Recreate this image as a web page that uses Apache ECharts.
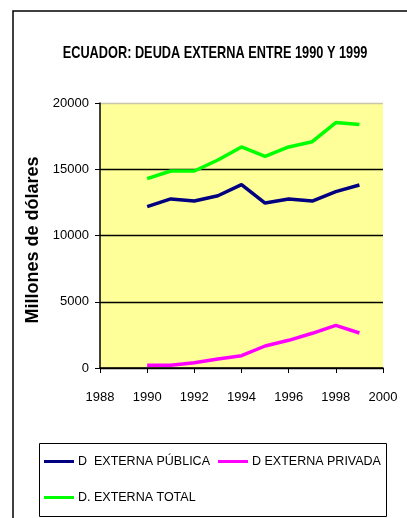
<!DOCTYPE html>
<html>
<head>
<meta charset="utf-8">
<script src="https://cdn.jsdelivr.net/npm/echarts@6/dist/echarts.min.js"></script>
<style>
  html, body { margin: 0; padding: 0; background: #fff; }
  #chart { width: 407px; height: 518px; }
</style>
</head>
<body>
<div id="chart"></div>
<script>
// External debt of Ecuador, millions of US dollars
const years = [1990, 1991, 1992, 1993, 1994, 1995, 1996, 1997, 1998, 1999];
const deudaPublica = [12180, 12760, 12600, 13000, 13840, 12450, 12760, 12600, 13310, 13810];
const deudaPrivada = [200, 200, 400, 680, 930, 1660, 2090, 2620, 3220, 2640];
const deudaTotal = [14290, 14870, 14870, 15700, 16680, 15980, 16680, 17080, 18520, 18370];

const chartTitle = 'ECUADOR: DEUDA EXTERNA ENTRE 1990 Y 1999';
const yAxisTitle = 'Millones de dólares';
const seriesNames = ['D  EXTERNA PÚBLICA', 'D EXTERNA PRIVADA', 'D. EXTERNA TOTAL'];
const seriesColors = ['#000080', '#ff00ff', '#00ff00'];
const xTicks = { min: 1988, max: 2000, step: 2 };
const yTicks = { min: 0, max: 20000, step: 5000 };

const font = "'Liberation Sans', Arial, sans-serif";

const pairs = arr => years.map((y, i) => [y, arr[i]]);
const allData = [deudaPublica, deudaPrivada, deudaTotal];

const chart = echarts.init(document.getElementById('chart'));

// one legend block per entry so the entries sit in two rows
const legendPos = [
  { left: 44, top: 455 },
  { left: 218, top: 455 },
  { left: 44, top: 491 }
];

chart.setOption({
  backgroundColor: '#ffffff',
  animation: false,
  legend: seriesNames.map((name, i) => ({
    data: [name],
    left: legendPos[i].left,
    top: legendPos[i].top,
    padding: 0,
    itemWidth: 30,
    itemHeight: 3,
    itemGap: 0,
    icon: 'rect',
    textStyle: { fontFamily: font, fontSize: 12.5, color: '#000', padding: [0, 0, 0, -1] }
  })),
  grid: {
    left: 100, right: 24, top: 103, bottom: 150,
    show: true,
    backgroundColor: '#ffff99',
    borderWidth: 0
  },
  xAxis: {
    type: 'value',
    min: xTicks.min, max: xTicks.max, interval: xTicks.step,
    axisLine: { lineStyle: { color: '#000', width: 1.5 } },
    axisTick: { show: true, length: 5, lineStyle: { color: '#000' } },
    axisLabel: { fontFamily: font, fontSize: 13, color: '#000', margin: 23, formatter: v => String(v) },
    splitLine: { show: false }
  },
  yAxis: {
    type: 'value',
    min: yTicks.min, max: yTicks.max, interval: yTicks.step,
    name: yAxisTitle,
    nameLocation: 'middle',
    nameGap: 47,
    nameTextStyle: {
      fontFamily: font, fontWeight: 'bold', fontSize: 18, color: '#000',
      padding: [0, 9, 0, 0]
    },
    axisLine: { show: true, lineStyle: { color: '#000', width: 1.5 } },
    axisTick: { show: true, length: 5, lineStyle: { color: '#000' } },
    axisLabel: { fontFamily: font, fontSize: 13, color: '#000', margin: 11, formatter: v => String(v) },
    splitLine: {
      show: true,
      lineStyle: { color: ['#000', '#000', '#000', '#000', '#c8c8a8'], width: 1.3 }
    }
  },
  series: seriesNames.map((name, i) => ({
    name,
    type: 'line',
    data: pairs(allData[i]),
    symbol: 'none',
    color: seriesColors[i],
    lineStyle: { width: 3.5, color: seriesColors[i] }
  })),
  graphic: [
    {
      // condensed bold title
      type: 'text',
      x: 215, y: 53,
      scaleX: 0.75,
      style: {
        text: chartTitle,
        fontFamily: font, fontWeight: 'bold', fontSize: 17, fill: '#000',
        textAlign: 'center', textVerticalAlign: 'middle'
      },
      silent: true
    },
    {
      type: 'rect',
      shape: { x: 13, y: 11, width: 420, height: 540 },
      style: { fill: 'none', stroke: '#000', lineWidth: 1.5 },
      silent: true, z: 10
    },
    {
      type: 'rect',
      shape: { x: 39.5, y: 443.5, width: 347, height: 73 },
      style: { fill: 'none', stroke: '#000', lineWidth: 1 },
      silent: true, z: 10
    }
  ]
});
</script>
</body>
</html>
